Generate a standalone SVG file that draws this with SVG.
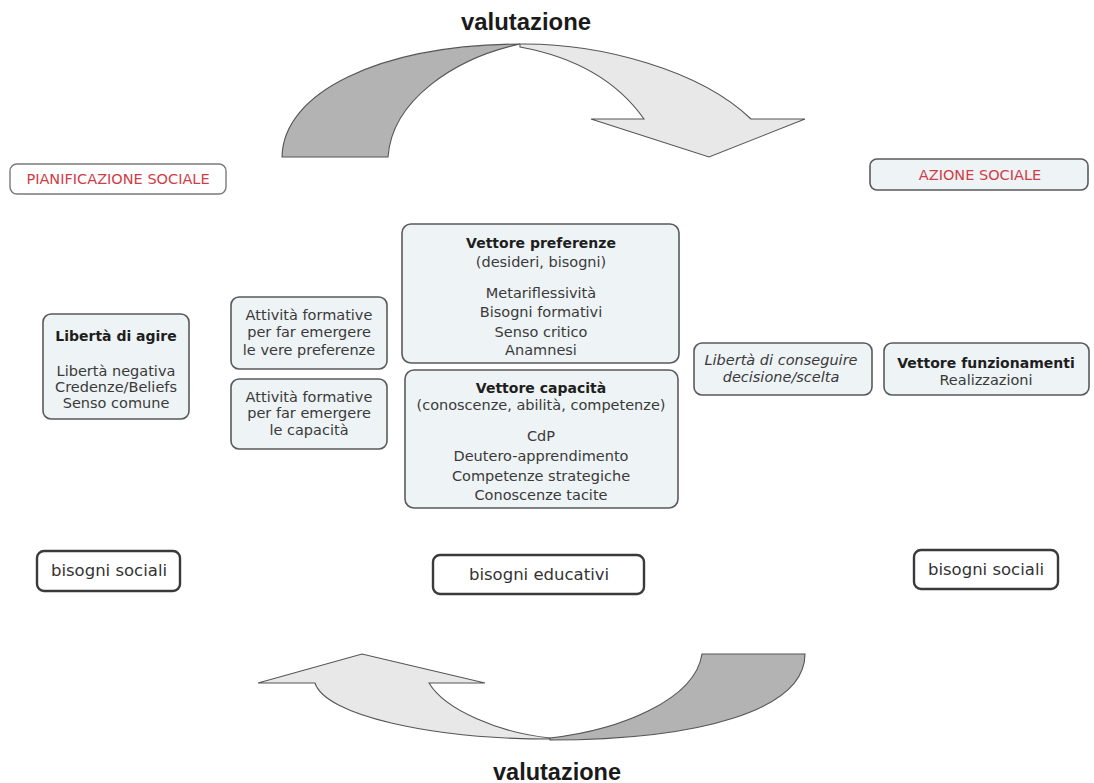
<svg xmlns="http://www.w3.org/2000/svg" width="1094" height="783" viewBox="0 0 1094 783">
<style>
.bg{fill:#ffffff}
.node{fill:#eef3f5;stroke:#5a5a5a;stroke-width:1.6}
.head{fill:#ffffff;stroke:#7a7a7a;stroke-width:1.4}
.need{fill:#ffffff;stroke:#3a3a3a;stroke-width:2.4}
.t{font-family:"DejaVu Sans",Verdana,sans-serif;font-size:14.5px;fill:#3a3a3a;text-anchor:middle}
.b{font-weight:bold;font-size:14px;fill:#1e1e1e}
.i{font-style:italic}
.red{fill:#cf3d48}
.n{font-size:16.5px;fill:#333}
.val{font-family:"Liberation Sans",Arial,sans-serif;font-weight:bold;font-size:23px;fill:#1a1a1a;text-anchor:middle}
.dark{fill:#b3b3b3;stroke:#555;stroke-width:1.1}
.light{fill:#e8e8e8;stroke:#555;stroke-width:1.1}
</style>
<rect class="bg" x="0" y="0" width="1094" height="783"/>

<g id="connectors">
  <path class="dark" d="M282,157 C283,92 380,45 520,44 C455,58 392,100 388,157 Z"/>
  <path class="light" d="M520,44 C600,43 700,70 751,119 L805,119 L709,157 L591,119 L644,119 C620,85 580,58 520,47 Z"/>
  <path class="light" d="M550,738 C500,733 445,710 429,683 L485,683 L362,654 L258,683 L315,683 C325,715 430,739 550,739 Z"/>
  <path class="dark" d="M550,738 C620,730 695,700 702,654 L805,654 C805,710 700,740 550,740 Z"/>
  <text class="val" x="526" y="30" textLength="130" lengthAdjust="spacingAndGlyphs">valutazione</text>
  <text class="val" x="557" y="780" textLength="128" lengthAdjust="spacingAndGlyphs">valutazione</text>
</g>

<g id="pianificazione">
  <rect class="head" x="10" y="164" width="216" height="30" rx="7"/>
  <text class="t red" x="118" y="184">PIANIFICAZIONE SOCIALE</text>
</g>

<g id="azione">
  <rect class="node" x="870" y="159" width="218" height="31" rx="7"/>
  <text class="t red" x="980" y="180">AZIONE SOCIALE</text>
</g>

<g id="liberta-agire">
  <rect class="node" x="43" y="314" width="146" height="105" rx="8"/>
  <text class="t b" x="116" y="341">Libertà di agire</text>
  <text class="t" x="116" y="376">Libertà negativa</text>
  <text class="t" x="116" y="392">Credenze/Beliefs</text>
  <text class="t" x="116" y="408">Senso comune</text>
</g>

<g id="attivita-preferenze">
  <rect class="node" x="231" y="297" width="156" height="72" rx="8"/>
  <text class="t" x="309" y="320">Attività formative</text>
  <text class="t" x="309" y="337">per far emergere</text>
  <text class="t" x="309" y="355">le vere preferenze</text>
</g>

<g id="attivita-capacita">
  <rect class="node" x="231" y="379" width="156" height="70" rx="8"/>
  <text class="t" x="309" y="402">Attività formative</text>
  <text class="t" x="309" y="418">per far emergere</text>
  <text class="t" x="309" y="435">le capacità</text>
</g>

<g id="vettore-preferenze">
  <rect class="node" x="402" y="224" width="277" height="139" rx="9"/>
  <text class="t b" x="541" y="248">Vettore preferenze</text>
  <text class="t" x="541" y="267">(desideri, bisogni)</text>
  <text class="t" x="541" y="298">Metariflessività</text>
  <text class="t" x="541" y="317">Bisogni formativi</text>
  <text class="t" x="541" y="337">Senso critico</text>
  <text class="t" x="541" y="355">Anamnesi</text>
</g>

<g id="vettore-capacita">
  <rect class="node" x="405" y="370" width="273" height="138" rx="9"/>
  <text class="t b" x="541" y="393">Vettore capacità</text>
  <text class="t" x="541" y="410">(conoscenze, abilità, competenze)</text>
  <text class="t" x="541" y="441">CdP</text>
  <text class="t" x="541" y="461">Deutero-apprendimento</text>
  <text class="t" x="541" y="481">Competenze strategiche</text>
  <text class="t" x="541" y="500">Conoscenze tacite</text>
</g>

<g id="liberta-conseguire">
  <rect class="node" x="694" y="343" width="178" height="52" rx="8"/>
  <text class="t i" x="781" y="365">Libertà di conseguire</text>
  <text class="t i" x="781" y="382">decisione/scelta</text>
</g>

<g id="vettore-funzionamenti">
  <rect class="node" x="884" y="343" width="205" height="52" rx="8"/>
  <text class="t b" x="986" y="368">Vettore funzionamenti</text>
  <text class="t" x="986" y="385">Realizzazioni</text>
</g>

<g id="bisogni-sociali-sx">
  <rect class="need" x="37" y="551" width="143" height="40" rx="7"/>
  <text class="t n" x="109" y="576">bisogni sociali</text>
</g>

<g id="bisogni-educativi">
  <rect class="need" x="433" y="555" width="211" height="39" rx="7"/>
  <text class="t n" x="539" y="580">bisogni educativi</text>
</g>

<g id="bisogni-sociali-dx">
  <rect class="need" x="914" y="550" width="144" height="39" rx="7"/>
  <text class="t n" x="986" y="575">bisogni sociali</text>
</g>
</svg>
